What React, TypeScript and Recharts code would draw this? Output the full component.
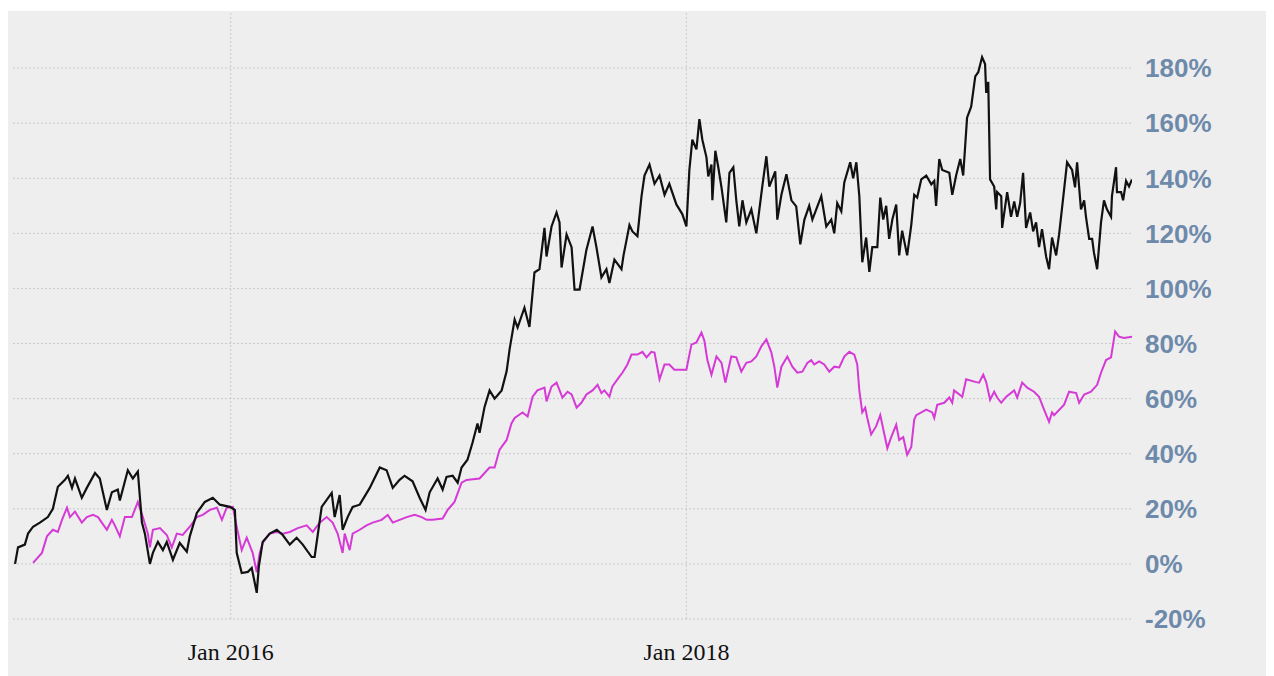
import * as React from "react";
import {
  LineChart,
  Line,
  XAxis,
  YAxis,
  CartesianGrid,
} from "recharts";

// [decimal year, cumulative return %]
const stockSeries: [number, number][] = [
  [2015.053, 0], [2015.066, 6], [2015.096, 7], [2015.11, 11], [2015.132, 13.5],
  [2015.162, 15], [2015.197, 17], [2015.219, 20], [2015.241, 28], [2015.272, 30.5],
  [2015.285, 32], [2015.303, 27.6], [2015.316, 31], [2015.346, 24], [2015.368, 27.6],
  [2015.404, 33], [2015.425, 31], [2015.456, 19.6], [2015.478, 26], [2015.504, 27],
  [2015.513, 23], [2015.548, 34], [2015.57, 31], [2015.592, 33.5], [2015.61, 15],
  [2015.623, 11], [2015.645, 0], [2015.658, 4], [2015.68, 8], [2015.702, 5],
  [2015.719, 8], [2015.746, 1.5], [2015.776, 7.6], [2015.807, 4.4], [2015.82, 10],
  [2015.851, 18.5], [2015.886, 22.5], [2015.921, 24], [2015.952, 21.5], [2015.996, 20.7],
  [2016.018, 19.6], [2016.026, 4], [2016.048, -3.3], [2016.075, -2.9], [2016.092, -1.5],
  [2016.114, -10.5], [2016.123, -1], [2016.14, 8], [2016.171, 11], [2016.202, 12.4],
  [2016.228, 10.5], [2016.259, 7], [2016.289, 9.5], [2016.316, 7], [2016.355, 2.5],
  [2016.368, 2.5], [2016.399, 20.7], [2016.443, 25.8], [2016.456, 17], [2016.478, 25],
  [2016.491, 12.4], [2016.513, 17], [2016.535, 20.7], [2016.566, 21.5], [2016.61, 27.6],
  [2016.654, 35], [2016.684, 34], [2016.711, 27.6], [2016.741, 30.5], [2016.763, 32],
  [2016.798, 30], [2016.829, 24], [2016.855, 19.6], [2016.873, 26], [2016.908, 31],
  [2016.93, 27], [2016.947, 31.6], [2016.974, 32], [2016.996, 29.5], [2017.013, 35],
  [2017.039, 37.8], [2017.061, 44], [2017.083, 51], [2017.092, 47.6], [2017.114, 57],
  [2017.136, 63], [2017.158, 60], [2017.189, 63], [2017.211, 70], [2017.224, 78],
  [2017.246, 88.7], [2017.259, 85.8], [2017.289, 93], [2017.311, 86], [2017.333, 105.8],
  [2017.355, 107], [2017.377, 122], [2017.386, 111.6], [2017.408, 122.5], [2017.43, 127.6],
  [2017.443, 124], [2017.452, 107.6], [2017.474, 119.6], [2017.496, 115], [2017.509, 99.6],
  [2017.531, 99.6], [2017.561, 114], [2017.588, 122.5], [2017.605, 115], [2017.627, 104],
  [2017.649, 107], [2017.662, 102], [2017.684, 110.5], [2017.715, 107], [2017.724, 112],
  [2017.75, 123], [2017.763, 120.7], [2017.785, 119], [2017.803, 133.5], [2017.816, 141],
  [2017.838, 145], [2017.86, 138], [2017.882, 141], [2017.904, 134], [2017.925, 138],
  [2017.956, 130.5], [2017.982, 127], [2018.0, 122.5], [2018.013, 143], [2018.026, 154],
  [2018.044, 150.5], [2018.057, 161.5], [2018.07, 154], [2018.088, 147.6], [2018.096, 140.7],
  [2018.11, 145], [2018.114, 132], [2018.127, 150], [2018.14, 144], [2018.154, 136.7],
  [2018.175, 124], [2018.189, 142], [2018.206, 144], [2018.219, 132], [2018.232, 122.5],
  [2018.246, 132], [2018.263, 124], [2018.285, 128.7], [2018.307, 120], [2018.333, 137],
  [2018.351, 148], [2018.364, 137], [2018.39, 142.5], [2018.399, 125], [2018.417, 134],
  [2018.439, 141.5], [2018.461, 132], [2018.482, 129.8], [2018.5, 116], [2018.518, 125],
  [2018.539, 130], [2018.553, 125], [2018.57, 128.7], [2018.592, 133.5], [2018.614, 122.5],
  [2018.636, 125], [2018.649, 120], [2018.662, 131], [2018.68, 128], [2018.693, 138.5],
  [2018.719, 145.8], [2018.732, 140], [2018.746, 145.8], [2018.759, 133.5], [2018.772, 109.5],
  [2018.789, 118.5], [2018.803, 106], [2018.816, 115], [2018.838, 115], [2018.851, 133],
  [2018.864, 125], [2018.877, 130], [2018.89, 118], [2018.904, 125], [2018.921, 130.5],
  [2018.934, 112], [2018.947, 121], [2018.969, 112], [2018.987, 123], [2019.0, 134],
  [2019.013, 133], [2019.031, 139.6], [2019.053, 141], [2019.075, 137.8], [2019.088, 139],
  [2019.096, 130], [2019.11, 147], [2019.123, 143], [2019.154, 142], [2019.167, 134],
  [2019.184, 141], [2019.202, 147], [2019.215, 141], [2019.232, 162], [2019.25, 166],
  [2019.268, 177], [2019.281, 178.5], [2019.298, 184], [2019.311, 181.5], [2019.316, 171],
  [2019.325, 175], [2019.333, 139.6], [2019.351, 137], [2019.36, 128.7], [2019.364, 135],
  [2019.382, 133.5], [2019.386, 122], [2019.408, 135], [2019.425, 126], [2019.439, 131.6],
  [2019.452, 126], [2019.465, 131], [2019.478, 142], [2019.491, 122], [2019.509, 127.6],
  [2019.522, 120.7], [2019.535, 124], [2019.548, 115], [2019.561, 121.5], [2019.579, 111.6],
  [2019.592, 107], [2019.605, 118.5], [2019.623, 112], [2019.636, 119.6], [2019.658, 136],
  [2019.671, 145.8], [2019.693, 143], [2019.706, 136.7], [2019.715, 145.8], [2019.732, 128.7],
  [2019.746, 132], [2019.754, 126], [2019.768, 118], [2019.781, 118], [2019.789, 113],
  [2019.803, 107], [2019.82, 124], [2019.833, 132], [2019.846, 128.7], [2019.864, 126],
  [2019.868, 133.5], [2019.886, 144], [2019.89, 135], [2019.908, 135], [2019.917, 132],
  [2019.93, 139], [2019.943, 137], [2019.956, 139.6],
];

const indexSeries: [number, number][] = [
  [2015.132, 0.4], [2015.171, 4], [2015.193, 10], [2015.219, 12.4], [2015.241, 11.6],
  [2015.259, 16], [2015.281, 20.4], [2015.294, 17], [2015.316, 19], [2015.346, 15],
  [2015.368, 17], [2015.395, 17.8], [2015.417, 17], [2015.456, 12.4], [2015.478, 16],
  [2015.491, 14], [2015.513, 10], [2015.535, 17], [2015.566, 17], [2015.592, 22.5],
  [2015.614, 17], [2015.636, 11], [2015.645, 6], [2015.658, 12.4], [2015.689, 13],
  [2015.719, 10.5], [2015.741, 6], [2015.763, 11], [2015.789, 10.5], [2015.82, 13.5],
  [2015.851, 17], [2015.877, 17.8], [2015.908, 19.6], [2015.939, 20.4], [2015.961, 16],
  [2015.982, 20.4], [2016.009, 20.7], [2016.026, 13.5], [2016.048, 5], [2016.07, 9.5],
  [2016.096, 4], [2016.114, -3], [2016.127, 4], [2016.14, 7.6], [2016.171, 11],
  [2016.202, 11.6], [2016.228, 11], [2016.259, 11.6], [2016.294, 13], [2016.333, 14],
  [2016.36, 11.6], [2016.39, 15], [2016.421, 17], [2016.447, 15], [2016.469, 11],
  [2016.491, 4], [2016.5, 11], [2016.522, 5], [2016.535, 11], [2016.566, 12.4],
  [2016.596, 14], [2016.623, 15], [2016.662, 16], [2016.689, 17.8], [2016.711, 15],
  [2016.741, 16], [2016.772, 17], [2016.807, 17.8], [2016.838, 17], [2016.86, 16],
  [2016.886, 16], [2016.93, 16.5], [2016.952, 19.6], [2016.982, 22.5], [2017.013, 29.5],
  [2017.035, 30.5], [2017.092, 31], [2017.114, 33], [2017.136, 35], [2017.158, 35],
  [2017.18, 41.5], [2017.211, 45], [2017.232, 51], [2017.246, 53], [2017.281, 55],
  [2017.303, 53.5], [2017.325, 60.7], [2017.346, 63], [2017.377, 64], [2017.386, 59],
  [2017.408, 64.4], [2017.43, 65.8], [2017.456, 60.4], [2017.478, 62.5], [2017.496, 61.5],
  [2017.518, 56.7], [2017.539, 58.5], [2017.561, 61.5], [2017.588, 63], [2017.61, 65],
  [2017.627, 62], [2017.64, 63], [2017.662, 60.7], [2017.675, 64.4], [2017.706, 68],
  [2017.719, 69.4], [2017.741, 72.4], [2017.759, 76], [2017.785, 76], [2017.807, 77],
  [2017.825, 75], [2017.846, 77], [2017.86, 76.7], [2017.882, 67], [2017.904, 72.4],
  [2017.925, 72.4], [2017.947, 70.5], [2017.969, 70.5], [2018.0, 70.5], [2018.022, 79.6],
  [2018.044, 80.4], [2018.066, 84], [2018.079, 81], [2018.092, 74], [2018.11, 68.7],
  [2018.132, 75.3], [2018.154, 73], [2018.171, 65.8], [2018.197, 75.3], [2018.219, 75],
  [2018.241, 69.8], [2018.263, 73], [2018.285, 73.5], [2018.307, 75.3], [2018.329, 79],
  [2018.351, 81.5], [2018.373, 76.7], [2018.386, 71.6], [2018.399, 64], [2018.417, 71.6],
  [2018.443, 75.3], [2018.465, 71.6], [2018.487, 69.4], [2018.509, 69.8], [2018.531, 73],
  [2018.548, 74], [2018.561, 72.4], [2018.583, 73.5], [2018.605, 72.4], [2018.627, 69.8],
  [2018.649, 71.6], [2018.671, 71.3], [2018.693, 75.3], [2018.715, 77], [2018.737, 76],
  [2018.75, 72.4], [2018.759, 63], [2018.772, 55], [2018.785, 56.7], [2018.794, 53],
  [2018.811, 47], [2018.833, 50], [2018.851, 54], [2018.86, 50.5], [2018.882, 42],
  [2018.899, 46], [2018.921, 50.5], [2018.934, 45], [2018.952, 46], [2018.969, 39.6],
  [2018.987, 42.5], [2019.0, 52.4], [2019.009, 54], [2019.053, 56], [2019.079, 55],
  [2019.088, 53], [2019.101, 57.8], [2019.132, 58.5], [2019.154, 60.4], [2019.167, 58.5],
  [2019.175, 63], [2019.211, 60.7], [2019.228, 67], [2019.272, 66], [2019.285, 65.8],
  [2019.303, 68.7], [2019.316, 66], [2019.333, 59.6], [2019.351, 62.5], [2019.364, 60.4],
  [2019.382, 58.5], [2019.404, 60.7], [2019.439, 63], [2019.452, 60.4], [2019.474, 65.8],
  [2019.496, 64], [2019.526, 62.5], [2019.548, 60.7], [2019.57, 56], [2019.592, 51.6],
  [2019.605, 55], [2019.614, 54], [2019.658, 57.8], [2019.68, 62.5], [2019.711, 62],
  [2019.724, 58.5], [2019.746, 61.5], [2019.776, 62.5], [2019.803, 65], [2019.82, 69.4],
  [2019.842, 74], [2019.864, 75], [2019.882, 84.4], [2019.899, 82.5], [2019.921, 82],
  [2019.956, 82.5],
];

const xDomain: [number, number] = [2015.044, 2019.956];
const xTicks = [2016, 2018];
const yTicks = [-20, 0, 20, 40, 60, 80, 100, 120, 140, 160, 180];

const stockData = stockSeries.map(([t, v]) => ({ t, v }));
const indexData = indexSeries.map(([t, v]) => ({ t, v }));

export default function App() {
  return (
    <div style={{ paddingTop: 3 }}>
      <div style={{ background: "#eeeeee", width: 1266, height: 665 }}>
        <LineChart
          width={1266}
          height={665}
          margin={{ top: 2, right: 0, bottom: 0, left: 5 }}
        >
          <CartesianGrid
            stroke="#c9c9c9"
            strokeDasharray="2 2"
            horizontalValues={yTicks}
            verticalValues={[xDomain[0], ...xTicks]}
          />
          <XAxis
            dataKey="t"
            type="number"
            domain={xDomain}
            ticks={xTicks}
            allowDataOverflow
            tickFormatter={(t) => "Jan " + t}
            axisLine={false}
            tickLine={false}
            tickSize={6}
            tickMargin={18}
            height={57}
            tick={{
              fill: "#111111",
              fontSize: 24,
              fontFamily: "Liberation Serif, Times New Roman, serif",
            }}
          />
          <YAxis
            orientation="right"
            type="number"
            domain={[-20, 200]}
            ticks={yTicks}
            tickFormatter={(v) => v + "%"}
            axisLine={false}
            tickLine={false}
            tickSize={6}
            tickMargin={7}
            width={142}
            tick={{
              fill: "#6e8aab",
              fontSize: 26,
              fontWeight: "bold",
              fontFamily: "Liberation Sans, Arial, sans-serif",
            }}
          />
          <Line
            data={indexData}
            dataKey="v"
            type="linear"
            stroke="#d63ad6"
            strokeWidth={2}
            dot={false}
            isAnimationActive={false}
          />
          <Line
            data={stockData}
            dataKey="v"
            type="linear"
            stroke="#111111"
            strokeWidth={2.2}
            dot={false}
            isAnimationActive={false}
          />
        </LineChart>
      </div>
    </div>
  );
}
